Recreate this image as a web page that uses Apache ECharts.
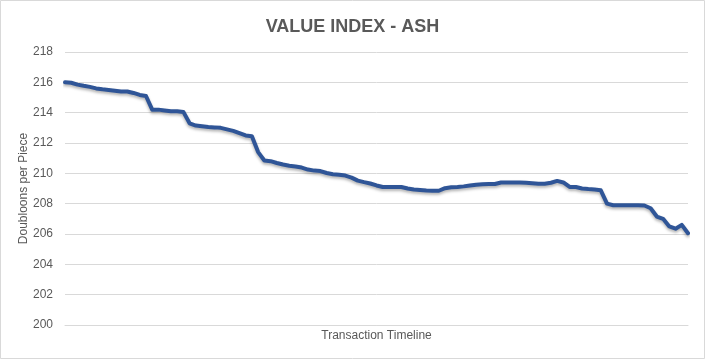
<!DOCTYPE html>
<html>
<head>
<meta charset="utf-8">
<script src="https://cdn.jsdelivr.net/npm/echarts@6/dist/echarts.min.js"></script>
<style>
html,body{margin:0;padding:0;background:#fff;}
#c{width:705px;height:359px;}
</style>
</head>
<body>
<div id="c"></div>
<script>
const chartTitle = 'VALUE INDEX - ASH';
const yAxisName = 'Doubloons per Piece';
const xAxisName = 'Transaction Timeline';
const yTicks = [200, 202, 204, 206, 208, 210, 212, 214, 216, 218];
const values = [
  216.0, 215.97, 215.85, 215.77, 215.7, 215.6, 215.54, 215.5, 215.45, 215.4,
  215.4, 215.3, 215.17, 215.1, 214.2, 214.2, 214.15, 214.1, 214.1, 214.05,
  213.3, 213.15, 213.1, 213.05, 213.03, 213.0, 212.9, 212.8, 212.65, 212.5,
  212.45, 211.4, 210.85, 210.8, 210.68, 210.58, 210.5, 210.45, 210.38, 210.25,
  210.18, 210.15, 210.02, 209.94, 209.9, 209.85, 209.72, 209.52, 209.42, 209.33,
  209.2, 209.1, 209.1, 209.1, 209.1, 209.0, 208.93, 208.9, 208.87, 208.85,
  208.85, 209.02, 209.08, 209.1, 209.14, 209.2, 209.25, 209.28, 209.3, 209.3,
  209.4, 209.4, 209.4, 209.4, 209.38, 209.35, 209.32, 209.32, 209.38, 209.5,
  209.4, 209.1, 209.1, 209.0, 208.96, 208.93, 208.88, 208.0, 207.9, 207.9,
  207.9, 207.9, 207.9, 207.88, 207.7, 207.15, 207.0, 206.5, 206.35, 206.6,
  206.05
];
const categories = values.map((v, i) => String(i + 1));

const font = "'Liberation Sans Narrow', 'Liberation Sans', sans-serif";
const chart = echarts.init(document.getElementById('c'));
chart.setOption({
  backgroundColor: '#ffffff',
  animation: false,
  title: {
    text: chartTitle,
    left: 'center',
    top: 13,
    textStyle: { fontFamily: font, fontSize: 18, fontWeight: 'bold', color: '#595959' }
  },
  graphic: [{
    type: 'rect',
    shape: { x: 0.5, y: 0.5, width: 704, height: 358 },
    style: { fill: 'none', stroke: '#d9d9d9', lineWidth: 1 },
    silent: true
  }],
  grid: { left: 65, right: 17, top: 52, bottom: 34 },
  xAxis: {
    type: 'category',
    data: categories,
    boundaryGap: false,
    name: xAxisName,
    nameLocation: 'middle',
    nameGap: 5,
    nameMoveOverlap: false,
    nameTextStyle: { fontFamily: font, fontSize: 12, color: '#595959' },
    axisLine: { show: true, lineStyle: { color: '#d9d9d9' } },
    axisTick: { show: false },
    axisLabel: { show: false },
    splitLine: { show: false }
  },
  yAxis: {
    type: 'value',
    min: yTicks[0],
    max: yTicks[yTicks.length - 1],
    interval: 2,
    name: yAxisName,
    nameLocation: 'middle',
    nameGap: 35,
    nameMoveOverlap: false,
    nameTextStyle: { fontFamily: font, fontSize: 12, color: '#595959' },
    axisLine: { show: false },
    axisTick: { show: false },
    axisLabel: { fontFamily: font, fontSize: 12, color: '#595959', margin: 12 },
    splitLine: { lineStyle: { color: '#d9d9d9', width: 1 } }
  },
  series: [{
    type: 'line',
    data: values,
    showSymbol: false,
    symbol: 'none',
    lineStyle: {
      color: '#2f5597',
      width: 4,
      join: 'round',
      cap: 'round',
      shadowColor: 'rgba(0,0,0,0.3)',
      shadowBlur: 3,
      shadowOffsetY: 2
    }
  }]
});
</script>
</body>
</html>
